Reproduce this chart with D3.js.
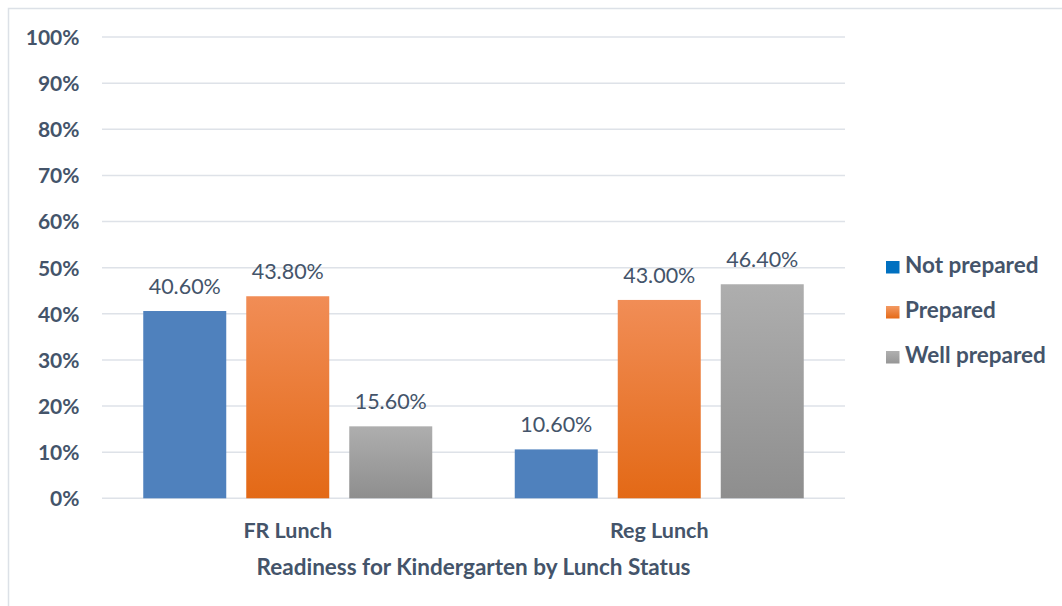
<!DOCTYPE html>
<html>
<head>
<meta charset="utf-8">
<script src="https://cdn.jsdelivr.net/npm/d3@7"></script>
<style>
  html, body { margin: 0; padding: 0; background: #fff; }
  svg { display: block; font-family: Lato, "Open Sans", sans-serif; }
</style>
</head>
<body>
<svg id="chart" width="1062" height="606"></svg>
<script>
const categories = ["FR Lunch", "Reg Lunch"];
const seriesNames = ["Not prepared", "Prepared", "Well prepared"];
const notPrepared = [40.6, 10.6];
const prepared = [43.8, 43.0];
const wellPrepared = [15.6, 46.4];
const yTicks = [0, 10, 20, 30, 40, 50, 60, 70, 80, 90, 100];
const xTitle = "Readiness for Kindergarten by Lunch Status";

const seriesValues = [notPrepared, prepared, wellPrepared];
const textColor = "#44546A";

const svg = d3.select("#chart");

// outer chart border
svg.append("rect")
  .attr("x", 8.5).attr("y", 8.5)
  .attr("width", 1200).attr("height", 800)
  .attr("fill", "none")
  .attr("stroke", "#DCE1E7")
  .attr("stroke-width", 1.5);

// gradients
const defs = svg.append("defs");
function grad(id, top, bottom) {
  const g = defs.append("linearGradient").attr("id", id)
    .attr("x1", 0).attr("y1", 0).attr("x2", 0).attr("y2", 1);
  g.append("stop").attr("offset", "0%").attr("stop-color", top);
  g.append("stop").attr("offset", "100%").attr("stop-color", bottom);
}
grad("gBlue", "#4F81BD", "#4F81BD");
grad("gOrange", "#F18D56", "#E36916");
grad("gGray", "#AEAEAE", "#8E8E8E");
grad("lgOrange", "#F39A63", "#E56A17");
grad("lgGray", "#B0B0B0", "#969696");
const fills = ["url(#gBlue)", "url(#gOrange)", "url(#gGray)"];
const legendFills = ["#0070C0", "url(#lgOrange)", "url(#lgGray)"];

const plot = { left: 102, right: 845, top: 37, bottom: 498.3 };

const y = d3.scaleLinear().domain([0, 100]).range([plot.bottom, plot.top]);
const x0 = d3.scaleBand().domain(categories).range([plot.left, plot.right]).padding(0);
const groupW = 289;
const x1 = d3.scaleBand().domain(seriesNames)
  .range([0, groupW]).paddingInner(20 / 103).paddingOuter(0);

// gridlines
svg.append("g")
  .selectAll("line")
  .data(yTicks)
  .join("line")
  .attr("x1", plot.left).attr("x2", plot.right)
  .attr("y1", d => y(d)).attr("y2", d => y(d))
  .attr("stroke", "#DEE2E8")
  .attr("stroke-width", 1.5);

// y axis labels
const yAxis = d3.axisLeft(y).tickValues(yTicks).tickFormat(d => d + "%").tickSize(0).tickPadding(0);
const gy = svg.append("g").attr("transform", `translate(79.5,0)`).call(yAxis);
gy.select(".domain").remove();
gy.selectAll("text")
  .attr("fill", textColor)
  .style("font-size", "21px")
  .style("font-weight", "bold")
  .style("font-family", "Lato, sans-serif")
  .attr("dy", "0.35em");

// bars
const groups = svg.append("g").selectAll("g")
  .data(categories)
  .join("g")
  .attr("transform", d => `translate(${x0(d) + (x0.bandwidth() - groupW) / 2},0)`);

groups.each(function(cat, ci) {
  const g = d3.select(this);
  seriesNames.forEach((s, si) => {
    const v = seriesValues[si][ci];
    g.append("rect")
      .attr("x", x1(s))
      .attr("y", y(v))
      .attr("width", x1.bandwidth())
      .attr("height", y(0) - y(v))
      .attr("fill", fills[si]);
    g.append("text")
      .attr("x", x1(s) + x1.bandwidth() / 2)
      .attr("y", y(v) - 17)
      .attr("text-anchor", "middle")
      .attr("fill", textColor)
      .style("font-size", "21.5px")
      .text(v.toFixed(2) + "%");
  });
});

// x axis category labels
const xAxis = d3.axisBottom(x0).tickSize(0).tickPadding(0);
const gx = svg.append("g").attr("transform", `translate(0,537.5)`).call(xAxis);
gx.select(".domain").remove();
gx.selectAll("text")
  .attr("fill", textColor)
  .attr("dy", 0)
  .style("font-size", "21.5px")
  .style("font-weight", "bold")
  .style("font-family", "Lato, sans-serif");

// x title
svg.append("text")
  .attr("x", (plot.left + plot.right) / 2)
  .attr("y", 575)
  .attr("text-anchor", "middle")
  .attr("fill", textColor)
  .style("font-size", "22.5px")
  .style("font-weight", "bold")
  .text(xTitle);

// legend
const legendY = d3.scalePoint().domain(seriesNames).range([267, 357]);
const lg = svg.append("g");
seriesNames.forEach((s, i) => {
  lg.append("rect")
    .attr("x", 886).attr("y", legendY(s) - 6)
    .attr("width", 13.5).attr("height", 12.5)
    .attr("fill", legendFills[i]);
  lg.append("text")
    .attr("x", 905).attr("y", legendY(s) + 6)
    .attr("fill", textColor)
    .style("font-size", "22.5px")
    .style("font-weight", "bold")
    .text(s);
});
</script>
</body>
</html>
